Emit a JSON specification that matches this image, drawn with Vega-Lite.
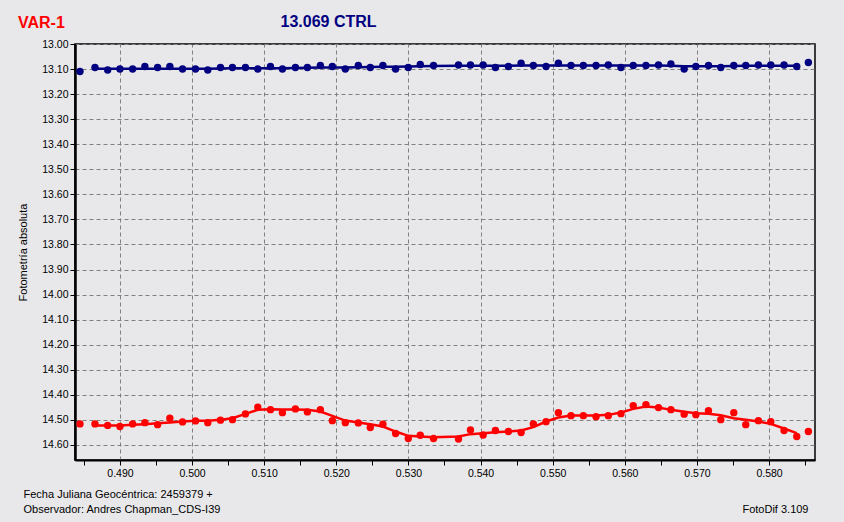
{
  "$schema": "https://vega.github.io/schema/vega-lite/v6.json",
  "width": 740,
  "height": 416,
  "autosize": {"type": "none"},
  "padding": {"left": 75, "top": 44, "right": 29, "bottom": 62},
  "background": "#e8e8ea",
  "config": {
    "view": {"stroke": "#000000", "strokeWidth": 1.5},
    "font": "Liberation Sans",
    "axis": {"labelFont": "Liberation Sans", "titleFont": "Liberation Sans"}
  },
  "title": {
    "text": "VAR-1",
    "anchor": "start",
    "frame": "group",
    "dx": -57,
    "dy": 49,
    "offset": 18,
    "baseline": "alphabetic",
    "color": "#ff0000",
    "font": "Liberation Sans",
    "fontSize": 16,
    "fontWeight": "bold"
  },
  "datasets": {
    "obs": [
      {"t": 0.48446, "var": 14.516, "ctrl": 13.110},
      {"t": 0.48654, "var": 14.516, "ctrl": 13.094},
      {"t": 0.48830, "var": 14.522, "ctrl": 13.104},
      {"t": 0.49000, "var": 14.526, "ctrl": 13.100},
      {"t": 0.49176, "var": 14.516, "ctrl": 13.100},
      {"t": 0.49346, "var": 14.511, "ctrl": 13.090},
      {"t": 0.49522, "var": 14.519, "ctrl": 13.094},
      {"t": 0.49692, "var": 14.493, "ctrl": 13.090},
      {"t": 0.49868, "var": 14.508, "ctrl": 13.100},
      {"t": 0.50048, "var": 14.504, "ctrl": 13.100},
      {"t": 0.50218, "var": 14.511, "ctrl": 13.104},
      {"t": 0.50394, "var": 14.501, "ctrl": 13.094},
      {"t": 0.50560, "var": 14.499, "ctrl": 13.094},
      {"t": 0.50740, "var": 14.476, "ctrl": 13.094},
      {"t": 0.50911, "var": 14.449, "ctrl": 13.100},
      {"t": 0.51087, "var": 14.459, "ctrl": 13.090},
      {"t": 0.51253, "var": 14.471, "ctrl": 13.100},
      {"t": 0.51433, "var": 14.456, "ctrl": 13.094},
      {"t": 0.51599, "var": 14.468, "ctrl": 13.094},
      {"t": 0.51779, "var": 14.459, "ctrl": 13.086},
      {"t": 0.51945, "var": 14.503, "ctrl": 13.090},
      {"t": 0.52125, "var": 14.511, "ctrl": 13.100},
      {"t": 0.52305, "var": 14.512, "ctrl": 13.086},
      {"t": 0.52471, "var": 14.530, "ctrl": 13.094},
      {"t": 0.52646, "var": 14.517, "ctrl": 13.086},
      {"t": 0.52822, "var": 14.554, "ctrl": 13.100},
      {"t": 0.52998, "var": 14.574, "ctrl": 13.094},
      {"t": 0.53164, "var": 14.561, "ctrl": 13.082},
      {"t": 0.53348, "var": 14.574, "ctrl": 13.086},
      {"t": 0.53694, "var": 14.576, "ctrl": 13.084},
      {"t": 0.53860, "var": 14.540, "ctrl": 13.084},
      {"t": 0.54036, "var": 14.560, "ctrl": 13.084},
      {"t": 0.54206, "var": 14.542, "ctrl": 13.094},
      {"t": 0.54386, "var": 14.546, "ctrl": 13.090},
      {"t": 0.54562, "var": 14.550, "ctrl": 13.077},
      {"t": 0.54732, "var": 14.516, "ctrl": 13.086},
      {"t": 0.54908, "var": 14.507, "ctrl": 13.090},
      {"t": 0.55079, "var": 14.471, "ctrl": 13.077},
      {"t": 0.55254, "var": 14.483, "ctrl": 13.086},
      {"t": 0.55425, "var": 14.483, "ctrl": 13.086},
      {"t": 0.55601, "var": 14.487, "ctrl": 13.086},
      {"t": 0.55771, "var": 14.483, "ctrl": 13.084},
      {"t": 0.55947, "var": 14.475, "ctrl": 13.094},
      {"t": 0.56117, "var": 14.443, "ctrl": 13.086},
      {"t": 0.56293, "var": 14.439, "ctrl": 13.086},
      {"t": 0.56467, "var": 14.451, "ctrl": 13.084},
      {"t": 0.56639, "var": 14.459, "ctrl": 13.080},
      {"t": 0.56823, "var": 14.477, "ctrl": 13.100},
      {"t": 0.56985, "var": 14.479, "ctrl": 13.090},
      {"t": 0.57160, "var": 14.463, "ctrl": 13.086},
      {"t": 0.57331, "var": 14.499, "ctrl": 13.094},
      {"t": 0.57511, "var": 14.471, "ctrl": 13.086},
      {"t": 0.57677, "var": 14.519, "ctrl": 13.086},
      {"t": 0.57852, "var": 14.503, "ctrl": 13.084},
      {"t": 0.58024, "var": 14.507, "ctrl": 13.084},
      {"t": 0.58208, "var": 14.542, "ctrl": 13.084},
      {"t": 0.58384, "var": 14.566, "ctrl": 13.090},
      {"t": 0.58545, "var": 14.546, "ctrl": 13.074}
    ],
    "fit": [
      {"t": 0.48654, "var": 14.5225, "ctrl": 13.099},
      {"t": 0.48830, "var": 14.5225, "ctrl": 13.099},
      {"t": 0.49000, "var": 14.5225, "ctrl": 13.099},
      {"t": 0.49176, "var": 14.5197, "ctrl": 13.099},
      {"t": 0.49346, "var": 14.5170, "ctrl": 13.099},
      {"t": 0.49522, "var": 14.5137, "ctrl": 13.099},
      {"t": 0.49692, "var": 14.5100, "ctrl": 13.099},
      {"t": 0.49868, "var": 14.5065, "ctrl": 13.099},
      {"t": 0.50048, "var": 14.5038, "ctrl": 13.099},
      {"t": 0.50218, "var": 14.5038, "ctrl": 13.099},
      {"t": 0.50394, "var": 14.4998, "ctrl": 13.098},
      {"t": 0.50560, "var": 14.4932, "ctrl": 13.097},
      {"t": 0.50740, "var": 14.4759, "ctrl": 13.097},
      {"t": 0.50911, "var": 14.4599, "ctrl": 13.097},
      {"t": 0.51087, "var": 14.4573, "ctrl": 13.097},
      {"t": 0.51253, "var": 14.4580, "ctrl": 13.097},
      {"t": 0.51433, "var": 14.4580, "ctrl": 13.096},
      {"t": 0.51599, "var": 14.4599, "ctrl": 13.095},
      {"t": 0.51779, "var": 14.4667, "ctrl": 13.094},
      {"t": 0.51945, "var": 14.4839, "ctrl": 13.094},
      {"t": 0.52125, "var": 14.5026, "ctrl": 13.094},
      {"t": 0.52305, "var": 14.5106, "ctrl": 13.093},
      {"t": 0.52471, "var": 14.5170, "ctrl": 13.092},
      {"t": 0.52646, "var": 14.5265, "ctrl": 13.091},
      {"t": 0.52822, "var": 14.5465, "ctrl": 13.091},
      {"t": 0.52998, "var": 14.5636, "ctrl": 13.090},
      {"t": 0.53164, "var": 14.5664, "ctrl": 13.089},
      {"t": 0.53348, "var": 14.5696, "ctrl": 13.088},
      {"t": 0.53694, "var": 14.5664, "ctrl": 13.087},
      {"t": 0.53860, "var": 14.5568, "ctrl": 13.087},
      {"t": 0.54036, "var": 14.5528, "ctrl": 13.087},
      {"t": 0.54206, "var": 14.5488, "ctrl": 13.087},
      {"t": 0.54386, "var": 14.5465, "ctrl": 13.087},
      {"t": 0.54562, "var": 14.5425, "ctrl": 13.086},
      {"t": 0.54732, "var": 14.5289, "ctrl": 13.086},
      {"t": 0.54908, "var": 14.5065, "ctrl": 13.086},
      {"t": 0.55079, "var": 14.4906, "ctrl": 13.086},
      {"t": 0.55254, "var": 14.4826, "ctrl": 13.086},
      {"t": 0.55425, "var": 14.4826, "ctrl": 13.086},
      {"t": 0.55601, "var": 14.4826, "ctrl": 13.086},
      {"t": 0.55771, "var": 14.4799, "ctrl": 13.086},
      {"t": 0.55947, "var": 14.4707, "ctrl": 13.086},
      {"t": 0.56117, "var": 14.4559, "ctrl": 13.086},
      {"t": 0.56293, "var": 14.4468, "ctrl": 13.086},
      {"t": 0.56467, "var": 14.4507, "ctrl": 13.086},
      {"t": 0.56639, "var": 14.4599, "ctrl": 13.087},
      {"t": 0.56823, "var": 14.4679, "ctrl": 13.089},
      {"t": 0.56985, "var": 14.4731, "ctrl": 13.089},
      {"t": 0.57160, "var": 14.4759, "ctrl": 13.089},
      {"t": 0.57331, "var": 14.4811, "ctrl": 13.089},
      {"t": 0.57511, "var": 14.4931, "ctrl": 13.088},
      {"t": 0.57677, "var": 14.4998, "ctrl": 13.087},
      {"t": 0.57852, "var": 14.5065, "ctrl": 13.087},
      {"t": 0.58024, "var": 14.5158, "ctrl": 13.087},
      {"t": 0.58208, "var": 14.5345, "ctrl": 13.087},
      {"t": 0.58384, "var": 14.5528, "ctrl": 13.087}
    ]
  },
  "layer": [
    {
      "data": {"name": "fit"},
      "mark": {"type": "line", "color": "#000080", "strokeWidth": 2.5},
      "encoding": {
        "x": {
          "field": "t", "type": "quantitative",
          "scale": {"domain": [0.48377, 0.58637], "nice": false, "zero": false},
          "axis": {
            "orient": "bottom",
            "values": [0.485, 0.49, 0.495, 0.5, 0.505, 0.51, 0.515, 0.52, 0.525, 0.53, 0.535, 0.54, 0.545, 0.55, 0.555, 0.56, 0.565, 0.57, 0.575, 0.58, 0.585],
            "labelExpr": "round(datum.value*200) % 2 == 0 ? format(datum.value, '.3f') : ''",
            "labelFontSize": 10.5, "labelColor": "#000000", "labelPadding": 3,
            "tickSize": 5, "tickColor": "#000000", "tickWidth": 1,
            "domainColor": "#000000", "domainWidth": 2,
            "grid": true, "gridColor": "#808080", "gridDash": [4, 3], "gridWidth": 1,
            "gridOpacity": {"condition": {"test": "round(datum.value*200) % 2 == 0", "value": 1}, "value": 0},
            "title": ["Fecha Juliana Geocéntrica: 2459379 +", "Observador: Andres Chapman_CDS-I39"],
            "titleFontSize": 11, "titleFontWeight": "normal", "titleColor": "#000000",
            "titleAlign": "left", "titleAnchor": "start", "titleBaseline": "alphabetic",
            "titleX": -52, "titleY": 37, "titleLineHeight": 15
          }
        },
        "y": {
          "field": "ctrl", "type": "quantitative",
          "scale": {"domain": [13.0, 14.66], "nice": false, "zero": false, "reverse": true},
          "axis": {
            "orient": "left",
            "values": [13.0, 13.1, 13.2, 13.3, 13.4, 13.5, 13.6, 13.7, 13.8, 13.9, 14.0, 14.1, 14.2, 14.3, 14.4, 14.5, 14.6],
            "format": ".2f",
            "labelFontSize": 10.5, "labelColor": "#000000", "labelPadding": 2,
            "tickSize": 5, "tickColor": "#000000", "tickWidth": 1,
            "domainColor": "#000000", "domainWidth": 2.5,
            "grid": true, "gridColor": "#808080", "gridDash": [4, 3], "gridWidth": 1,
            "title": "Fotometría absoluta",
            "titleFontSize": 11, "titleFontWeight": "normal", "titleColor": "#000000",
            "titleAngle": -90, "titleAlign": "center", "titleBaseline": "middle",
            "titleX": -52, "titleY": 208
          }
        }
      }
    },
    {
      "data": {"name": "obs"},
      "mark": {"type": "circle", "color": "#000080", "size": 55, "opacity": 1},
      "encoding": {
        "x": {
          "field": "t", "type": "quantitative",
          "scale": {"domain": [0.48377, 0.58637], "nice": false, "zero": false},
          "axis": {
            "orient": "top", "labels": false, "ticks": false, "domain": false, "grid": false,
            "title": "13.069 CTRL",
            "titleFontSize": 16, "titleFontWeight": "bold", "titleColor": "#000080",
            "titleAlign": "left", "titleAnchor": "start", "titleBaseline": "alphabetic",
            "titleX": 205, "titleY": -18
          }
        },
        "y": {
          "field": "ctrl", "type": "quantitative",
          "scale": {"domain": [13.0, 14.66], "nice": false, "zero": false, "reverse": true},
          "axis": {
            "orient": "right", "labels": false, "ticks": false, "domain": false, "grid": false,
            "title": "FotoDif 3.109",
            "titleFontSize": 11, "titleFontWeight": "normal", "titleColor": "#000000",
            "titleAngle": 0, "titleAlign": "right", "titleBaseline": "alphabetic",
            "titleX": -7, "titleY": 468
          }
        }
      }
    },
    {
      "data": {"name": "fit"},
      "mark": {"type": "line", "color": "#ff0000", "strokeWidth": 2.5},
      "encoding": {
        "x": {"field": "t", "type": "quantitative", "scale": {"domain": [0.48377, 0.58637], "nice": false, "zero": false}, "axis": null},
        "y": {"field": "var", "type": "quantitative", "scale": {"domain": [13.0, 14.66], "nice": false, "zero": false, "reverse": true}, "axis": null}
      }
    },
    {
      "data": {"name": "obs"},
      "mark": {"type": "circle", "color": "#ff0000", "size": 55, "opacity": 1},
      "encoding": {
        "x": {"field": "t", "type": "quantitative", "scale": {"domain": [0.48377, 0.58637], "nice": false, "zero": false}, "axis": null},
        "y": {"field": "var", "type": "quantitative", "scale": {"domain": [13.0, 14.66], "nice": false, "zero": false, "reverse": true}, "axis": null}
      }
    }
  ],
  "resolve": {"axis": {"x": "independent", "y": "independent"}}
}
